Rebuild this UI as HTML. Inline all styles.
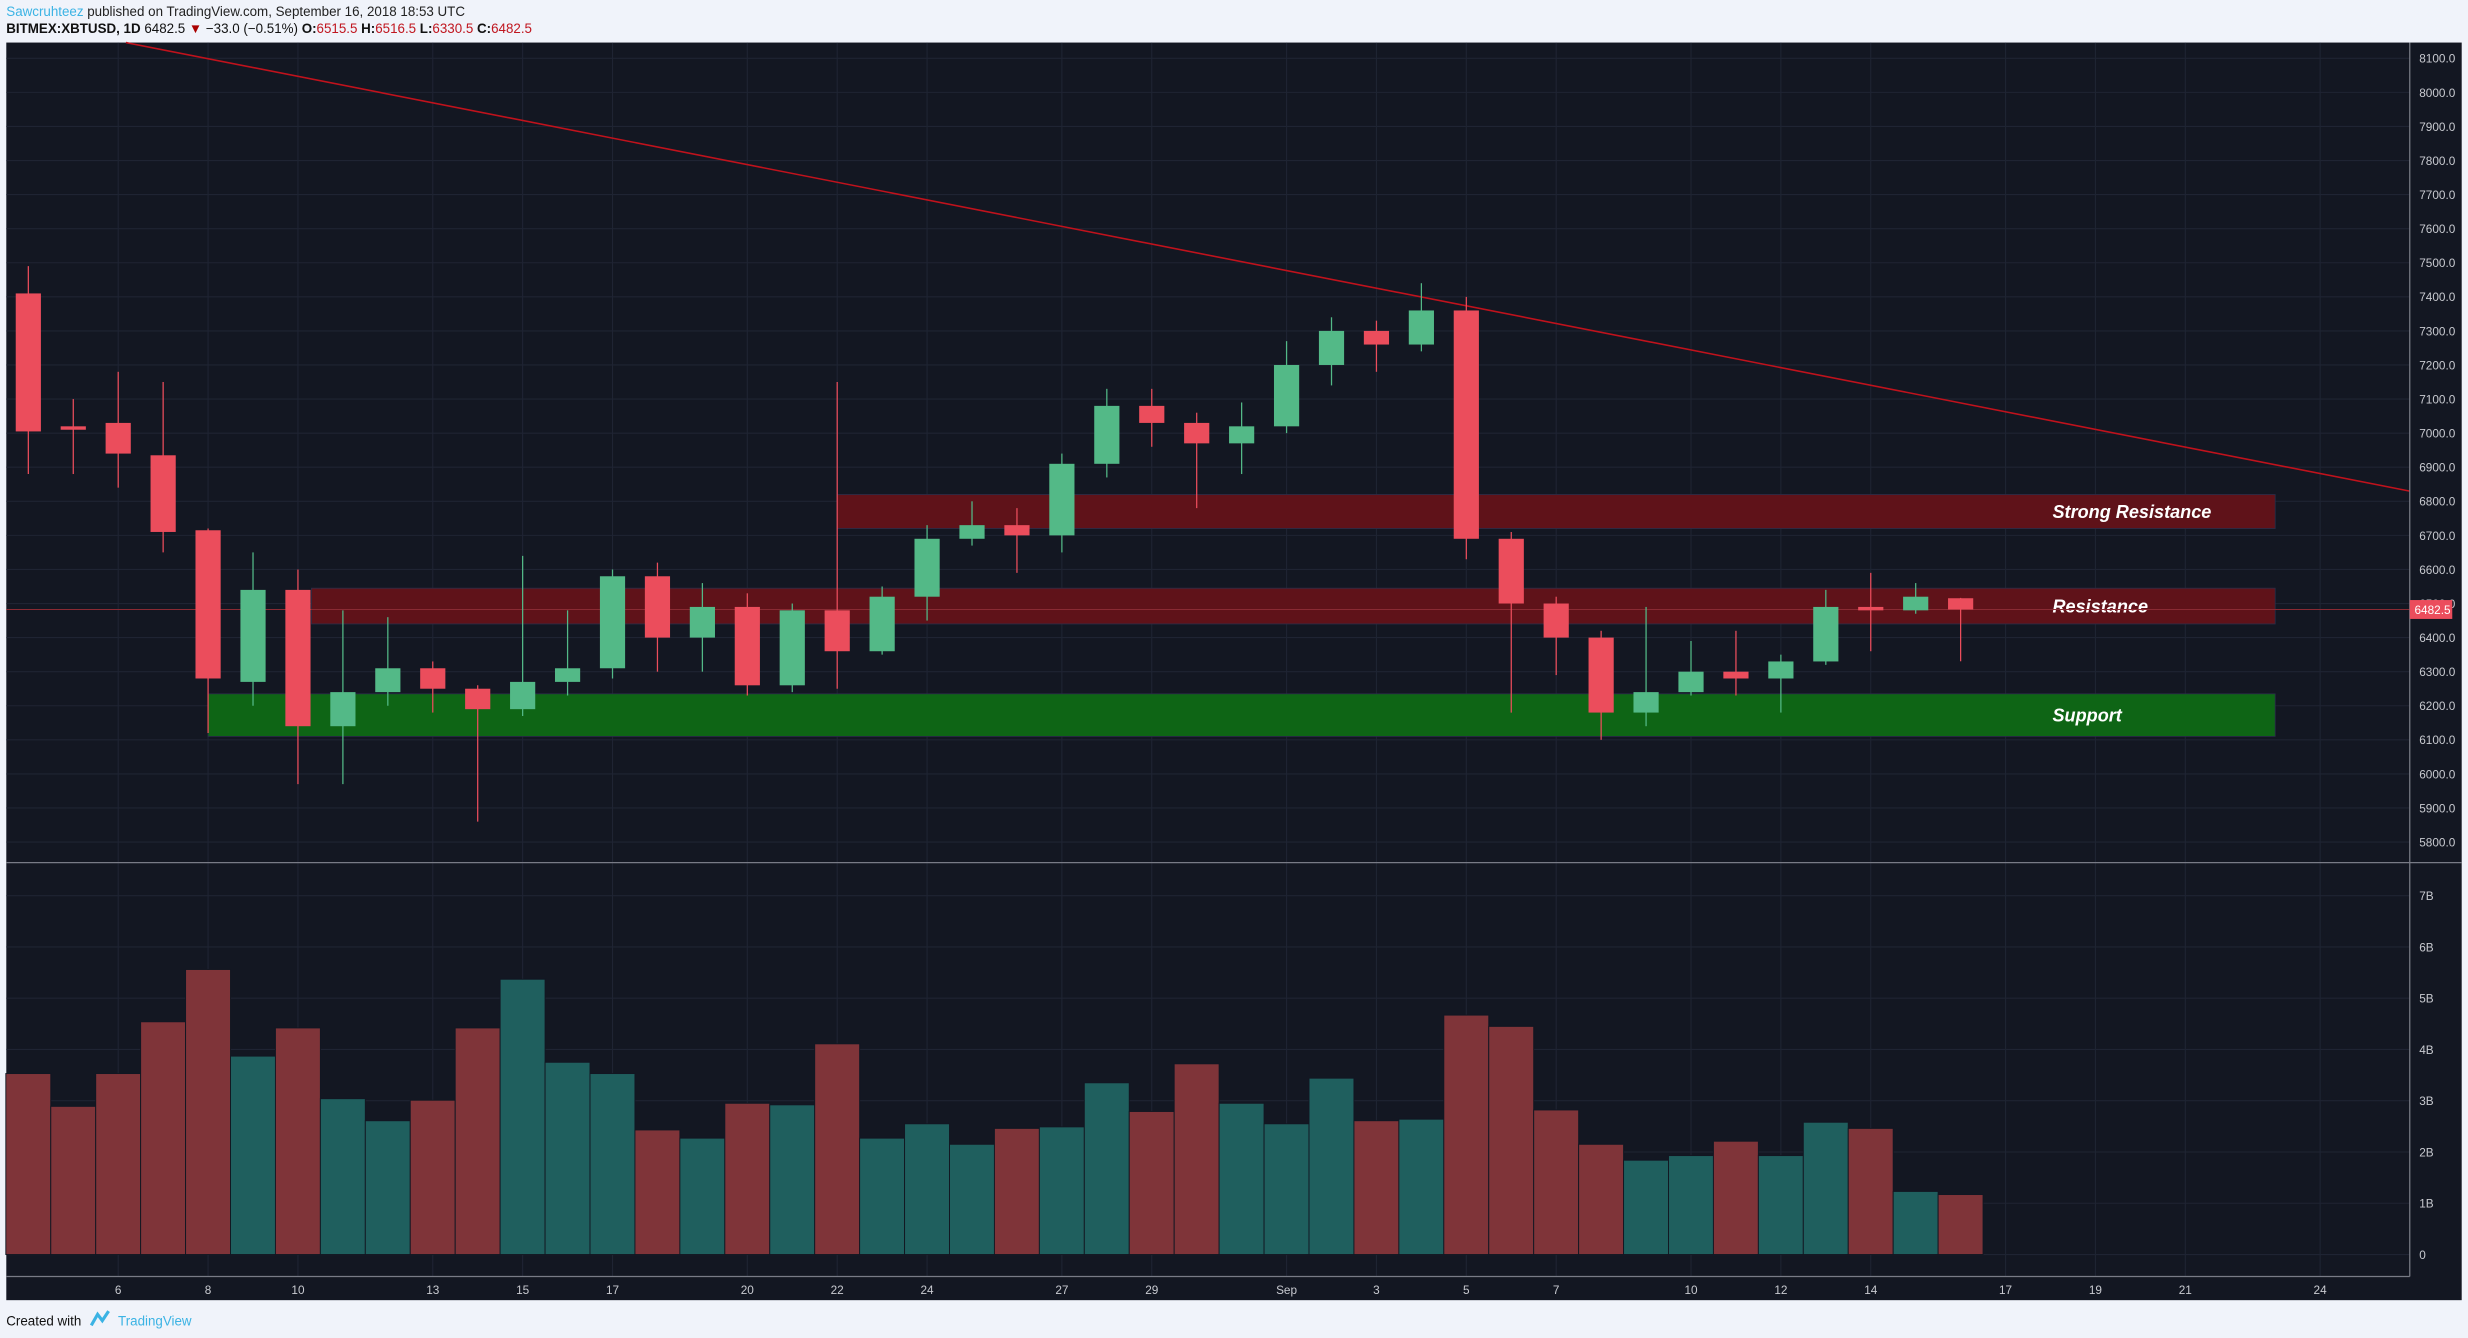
<!DOCTYPE html>
<html><head><meta charset="utf-8"><style>
html,body{margin:0;padding:0;background:#f0f3fa;}
svg{display:block;}
text{font-family:"Liberation Sans",sans-serif;}
</style></head><body>
<svg id="c" width="2468" height="1338" viewBox="0 0 1568 850" xmlns="http://www.w3.org/2000/svg">
<rect x="0" y="0" width="1568" height="850" fill="#f0f3fa"/>
<text x="4" y="10" font-size="8.5"><tspan fill="#3bb3e4">Sawcruhteez</tspan><tspan fill="#222"> published on TradingView.com, September 16, 2018 18:53 UTC</tspan></text>
<text x="4" y="21" font-size="8.5" font-weight="bold" fill="#111">BITMEX:XBTUSD, 1D <tspan font-weight="normal">6482.5 </tspan><tspan fill="#a00">▼</tspan><tspan font-weight="normal"> −33.0 (−0.51%) </tspan>O:<tspan fill="#c0161f" font-weight="normal">6515.5</tspan> H:<tspan fill="#c0161f" font-weight="normal">6516.5</tspan> L:<tspan fill="#c0161f" font-weight="normal">6330.5</tspan> C:<tspan fill="#c0161f" font-weight="normal">6482.5</tspan></text>
<rect x="4" y="27" width="1560" height="799" fill="#131722"/>
<g id="grid"></g>
<g id="zones"></g>
<g id="candles"></g>
<g id="vols"></g>
<g id="axes"></g>
<text x="4" y="842" font-size="8.5" fill="#111">Created with</text>
<path d="M58 842 l4 -7 l3 4 l4 -6" stroke="#3bb3e4" stroke-width="2" fill="none"/>
<text x="75" y="842" font-size="8.5" fill="#3bb3e4">TradingView</text>
</svg>
<script>
const dates=["4","5","6","7","8","9","10","11","12","13","14","15","16","17","18","19","20","21","22","23","24","25","26","27","28","29","30","31","Sep","2","3","4","5","6","7","8","9","10","11","12","13","14","15","16"];
const opens=[7410,7020,7030,6935,6715,6270,6540,6140,6240,6310,6250,6190,6270,6310,6580,6400,6490,6260,6480,6360,6520,6690,6730,6700,6910,7080,7030,6970,7020,7200,7300,7260,7360,6690,6500,6400,6180,6240,6300,6280,6330,6490,6480,6515.5];
const highs=[7490,7100,7180,7150,6720,6650,6600,6480,6460,6330,6260,6640,6480,6600,6620,6560,6530,6500,7150,6550,6730,6800,6780,6940,7130,7130,7060,7090,7270,7340,7330,7440,7400,6710,6520,6420,6490,6390,6420,6350,6540,6590,6560,6516.5];
const lows=[6880,6880,6840,6650,6120,6200,5970,5970,6200,6180,5860,6170,6230,6280,6300,6300,6230,6240,6250,6350,6450,6670,6590,6650,6870,6960,6780,6880,7000,7140,7180,7240,6630,6180,6290,6100,6140,6230,6230,6180,6320,6360,6470,6330.5];
const closes=[7005,7010,6940,6710,6280,6540,6140,6240,6310,6250,6190,6270,6310,6580,6400,6490,6260,6480,6360,6520,6690,6730,6700,6910,7080,7030,6970,7020,7200,7300,7260,7360,6690,6500,6400,6180,6240,6300,6280,6330,6490,6480,6520,6482.5];
const volumes=[3.53,2.89,3.53,4.54,5.56,3.87,4.42,3.04,2.61,3.01,4.42,5.37,3.75,3.53,2.43,2.27,2.95,2.92,4.11,2.27,2.55,2.15,2.46,2.49,3.35,2.79,3.72,2.95,2.55,3.44,2.61,2.64,4.67,4.45,2.82,2.15,1.84,1.93,2.21,1.93,2.58,2.46,1.23,1.17];
const priceTicks=[8100,8000,7900,7800,7700,7600,7500,7400,7300,7200,7100,7000,6900,6800,6700,6600,6500,6400,6300,6200,6100,6000,5900,5800];
const volTicks=[0,1,2,3,4,5,6,7];
const dateLabels=["6","8","10","13","15","17","20","22","24","27","29","Sep","3","5","7","10","12","14","17","19","21","24"];
const dateLabelIdx=[2,4,6,9,11,13,16,18,20,23,25,28,30,32,34,37,39,41,44,46,48,51];
const zoneNames=["Strong Resistance","Resistance","Support"];
const zoneTop=[6820,6545,6235];
const zoneBot=[6720,6440,6110];
const zoneStart=[18,6.3,4];
const zoneEnd=[50,50,50];
const lastPrice=6482.5;

const NS="http://www.w3.org/2000/svg";
const px=i=>18+28.55*i;
const py=p=>37+(8100-p)*0.2165;
const vy=v=>797-v*32.57;
function mk(parent,tag,attrs){const e=document.createElementNS(NS,tag);for(const k in attrs)e.setAttribute(k,attrs[k]);document.getElementById(parent).appendChild(e);return e;}

priceTicks.forEach(p=>{const l=mk('grid','line',{x1:4,x2:1531,y1:py(p),y2:py(p),stroke:'#1f2433','stroke-width':0.7});

});
volTicks.forEach(v=>{const l=mk('grid','line',{x1:4,x2:1531,y1:vy(v),y2:vy(v),stroke:'#1f2433','stroke-width':0.7});

});
dateLabelIdx.forEach(i=>{const l=mk('grid','line',{x1:px(i),x2:px(i),y1:27,y2:811,stroke:'#1f2433','stroke-width':0.7});

});

const zf=['#5f1219','#5f1219','#0e6515'];
zoneNames.forEach((n,k)=>{
 const r=mk('zones','rect',{x:px(zoneStart[k]),y:py(zoneTop[k]),width:px(zoneEnd[k])-px(zoneStart[k]),height:py(zoneBot[k])-py(zoneTop[k]),fill:zf[k],stroke:'#2a2e4a','stroke-width':0.5});
 
 
 const t=mk('zones','text',{x:1304,y:(py(zoneTop[k])+py(zoneBot[k]))/2+4,'font-size':11.5,'font-weight':'bold','font-style':'italic',fill:'#fff'});
 t.textContent=n;
 
 
});
const lp=mk('zones','line',{x1:4,x2:1531,y1:py(lastPrice),y2:py(lastPrice),stroke:'#8a2a33','stroke-width':0.6});


const tl=mk('zones','line',{x1:80,y1:27,x2:1531,y2:312,stroke:'#c0121c','stroke-width':1});



opens.forEach((o,i)=>{
 const c=closes[i],up=c>=o,col=up?'#53b987':'#eb4d5c',x=px(i);
 const w=mk('candles','line',{x1:x,x2:x,y1:py(highs[i]),y2:py(lows[i]),stroke:col,'stroke-width':0.8});
 
 
 const top=py(Math.max(o,c)),h=Math.max(1.2,Math.abs(py(o)-py(c)));
 const b=mk('candles','rect',{x:x-8,y:top,width:16,height:h,fill:col});
 
 
 const v=mk('vols','rect',{x:x-14.3,y:vy(volumes[i]),width:28.55,height:vy(0)-vy(volumes[i]),fill:up?'#1f5f5e':'#7f3439',stroke:'#131722','stroke-width':0.6});
 
 
});

const a1=mk('axes','line',{x1:1531,x2:1531,y1:27,y2:811,stroke:'#787b86','stroke-width':0.8});


const a2=mk('axes','line',{x1:4,x2:1531,y1:811,y2:811,stroke:'#787b86','stroke-width':0.8});


const a3=mk('axes','line',{x1:4,x2:1564,y1:548,y2:548,stroke:'#787b86','stroke-width':0.8});


priceTicks.forEach(p=>{const t=mk('axes','text',{x:1537,y:py(p)+2.8,'font-size':7.5,fill:'#c8cad0'});t.textContent=p.toFixed(1);

});
volTicks.forEach(v=>{const t=mk('axes','text',{x:1537,y:vy(v)+2.8,'font-size':7.5,fill:'#c8cad0'});t.textContent=v===0?'0':v+'B';

});
dateLabels.forEach((d,k)=>{const t=mk('axes','text',{x:px(dateLabelIdx[k]),y:822,'font-size':7.5,fill:'#c8cad0','text-anchor':'middle'});t.textContent=d;

});
const lb=mk('axes','rect',{x:1531,y:py(lastPrice)-6,width:27,height:12,fill:'#eb4d5c'});


const lt=mk('axes','text',{x:1534,y:py(lastPrice)+2.8,'font-size':7.5,fill:'#fff'});lt.textContent=lastPrice.toFixed(1);


</script>
</body></html>
